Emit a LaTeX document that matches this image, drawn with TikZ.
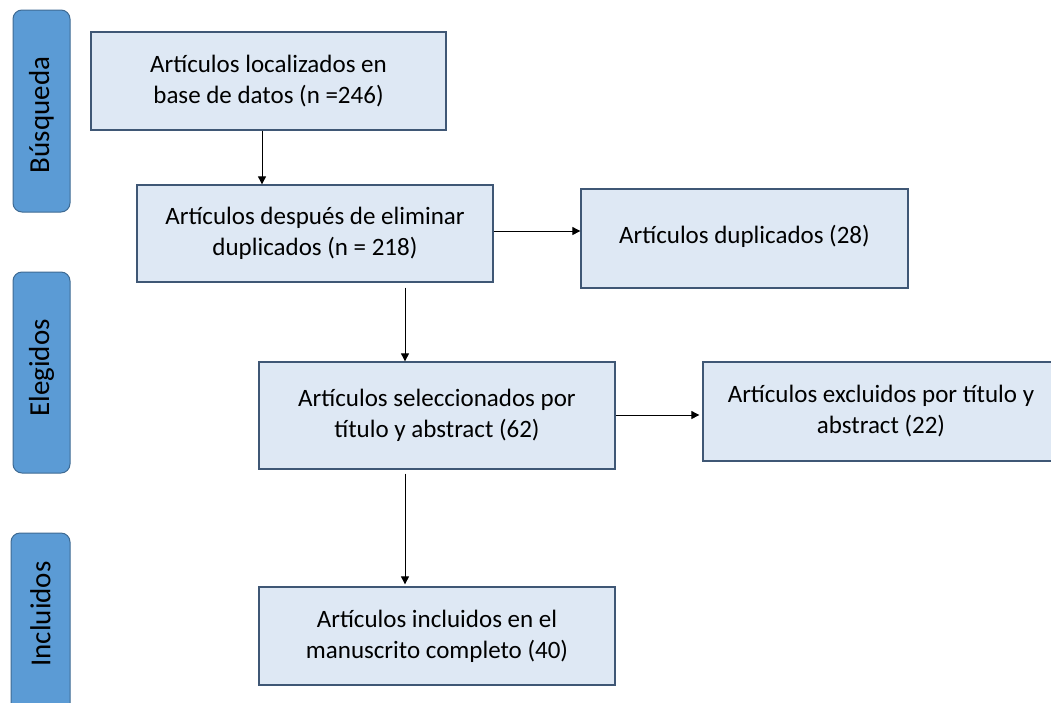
\documentclass[tikz,border=0pt]{standalone}
\usepackage{fontspec}
\setmainfont{Carlito}
\usetikzlibrary{arrows.meta,calc}
\definecolor{boxfill}{HTML}{DEE8F4}
\definecolor{boxdraw}{HTML}{3F5775}
\definecolor{sidefill}{HTML}{5B9BD5}
\definecolor{sidedraw}{HTML}{3E6A93}
\tikzset{
  mainbox/.style={draw=boxdraw, line width=1.3pt, fill=boxfill, align=center, inner sep=0pt,
    font=\fontsize{25}{31}\selectfont, text=black},
  sidebox/.style={draw=sidedraw, line width=1pt, fill=sidefill, rounded corners=9pt, inner sep=0pt,
    minimum width=57pt},
  sidelabel/.style={rotate=90, font=\fontsize{29}{34}\selectfont, text=black},
  arr/.style={draw=black, line width=0.9pt, -{Triangle[length=8pt,width=8pt]}}
}
\begin{document}
\begin{tikzpicture}[x=1pt,y=-1pt]
\useasboundingbox (0,0) rectangle (1051,702);
% side boxes
\node[sidebox, minimum height=202pt] (s1) at (41.5,111) {};
\node[sidelabel] (t1) at (41.5,115) {Búsqueda};
\node[sidebox, minimum height=201pt] (s2) at (41.5,372.5) {};
\node[sidelabel] (t2) at (41.5,368) {Elegidos};
\node[sidebox, minimum height=220pt, minimum width=59pt] (s3) at (40.5,643) {};
\node[sidelabel] (t3) at (40.5,614) {Incluidos};
% main boxes
\node[mainbox, minimum width=355pt, minimum height=98pt] (b1) at (268.5,81) {Artículos localizados en\\base de datos (n =246)};
\node[mainbox, minimum width=356pt, minimum height=97pt] (b2) at (315,233.5) {Artículos después de eliminar\\duplicados (n = 218)};
\node[mainbox, minimum width=327pt, minimum height=99pt] (b3) at (744.5,238.5) {\raisebox{8pt}{Artículos duplicados (28)}};
\node[mainbox, minimum width=356pt, minimum height=107pt] (b4) at (437,415.5) {Artículos seleccionados por\\título y abstract (62)};
\node[mainbox, minimum width=356pt, minimum height=99pt] (b5) at (881,411.5) {Artículos excluidos por título y\\abstract (22)};
\node[mainbox, minimum width=356pt, minimum height=98pt] (b6) at (437,636) {Artículos incluidos en el\\manuscrito completo (40)};
% helper coordinates
\coordinate (x1) at (262,0);
\coordinate (x2) at (405,0);
\coordinate (y1) at (0,231);
\coordinate (y2) at (0,415);
% arrows
\draw[arr] (b1.south -| x1) -- (b2.north -| x1);
\draw[arr] (b2.east |- y1) -- (b3.west |- y1);
\draw[arr] ($(b2.south -| x2)+(0,5)$) -- (b4.north -| x2);
\draw[arr] (b4.east |- y2) -- ($(b5.west |- y2)+(-3,0)$);
\draw[arr] ($(b4.south -| x2)+(0,4)$) -- ($(b6.north -| x2)+(0,-2)$);
\end{tikzpicture}
\end{document}
